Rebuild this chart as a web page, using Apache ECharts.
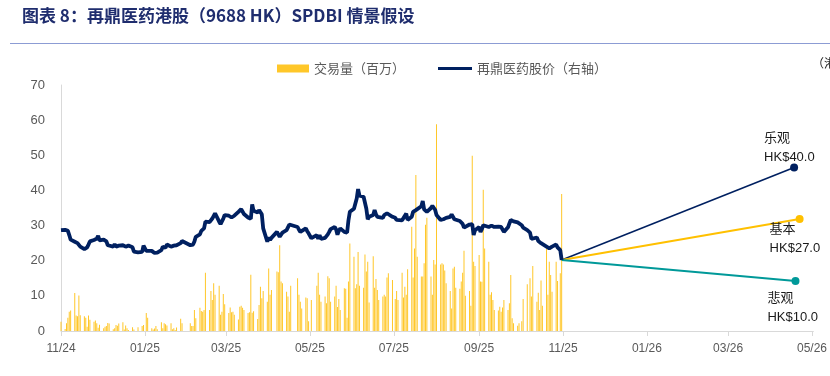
<!DOCTYPE html>
<html><head><meta charset="utf-8">
<script src="https://cdn.jsdelivr.net/npm/echarts@6/dist/echarts.min.js"></script>
<style>html,body{margin:0;padding:0;background:#fff}#c{width:830px;height:376px}</style>
</head><body><div id="c"></div>
<script>
// ---- categories: months covered and HK market holidays (weekday closures)
const months = ['2024-11','2024-12','2025-01','2025-02','2025-03','2025-04','2025-05','2025-06','2025-07','2025-08','2025-09','2025-10'];
const holidays = ['2024-12-25','2024-12-26','2025-01-01','2025-01-29','2025-01-30','2025-01-31','2025-04-04','2025-04-18','2025-04-21','2025-05-01','2025-05-05','2025-07-01','2025-10-01','2025-10-07','2025-10-29'];

// ---- daily trading volume (millions), read per month
const volNov24 = [2.6,0.6,2.2,3.8,5.5,5.8,10.8,4.4,4.2,10.1,4.5,4.2,3.8,1.2,4.4,3.2,2.6,3.0,2.2,0.9,1.8];
const volDec24 = [0.8,1.2,1.4,2.3,2.1,0.5,0.8,1.7,1.5,2.1,2.5,0.4,1.6,0.8,0.3,1.1,0.4,1.1,1.4,1.7];
const volJan25 = [5.1,3.8,0.8,0.4,0.7,1.4,0.5,2.5,0.8,2.2,1.9,1.6,2.2,0.5,0.8,0.3,1.0,3.5,2.2];
const volFeb25 = [2.2,1.4,1.4,6.0,3.6,6.6,5.7,5.5,6.0,16.6,6.0,11.4,8.8,13.6,10.3,12.9,4.6,5.5,10.5,7.6];
const volMar25 = [5.1,6.7,5.3,5.5,4.6,3.3,6.9,7.2,6.6,6.0,5.1,5.3,16.0,5.2,5.6,3.4,7.4,12.6,9.3,11.4,8.3];
const volApr25 = [17.8,10.3,11.7,16.9,16.7,24.4,14.1,13.6,11.2,9.8,5.5,12.9,15.0,10.3,8.3,6.4,9.5,9.3,2.8];
const volMay25 = [8.8,12.9,16.6,10.3,8.3,9.8,7.9,15.6,15.0,8.3,9.8,12.9,6.8,9.1,6.0,12.2,12.0,3.8,14.1,24.9];
const volJun25 = [21.1,12.2,13.3,22.5,12.9,12.3,21.8,16.9,19.7,8.1,21.3,12.3,14.8,11.7,8.8,9.8,10.3,9.8,15.2,16.4,14.5];
const volJul25 = [9.1,11.4,8.8,16.6,9.5,12.6,10.3,17.6,29.7,15.2,23.5,44.4,21.1,15.5,15.5,19.3,30.2,32.2,15.5,10.3,20.2,18.9];
const volAug25 = [58.8,18.9,19.3,18.9,17.2,13.6,11.4,6.4,17.8,18.3,12.3,12.0,14.1,16.6,22.8,10.0,11.4,7.2,49.9,19.7,18.5];
const volSep25 = [21.6,14.1,14.0,40.2,23.5,19.7,10.3,11.0,8.8,6.0,5.8,6.9,5.5,6.7,8.8,6.0,7.9,15.9,3.6,2.2,1.5,2.2];
const volOct25 = [2.8,9.1,13.3,15.0,9.8,18.5,8.3,10.9,6.0,14.4,7.2,23.5,10.3,19.7,15.9,11.2,19.7,14.2,16.4,39.0];

// ---- daily share price (as plotted), read per month
const pxNov24 = [28.7,28.8,28.7,28.5,27.3,26.0,25.4,25.2,25.0,24.5,24.0,23.3,23.0,23.8,24.6,25.5,25.9,26.2,26.3,27.1,25.8];
const pxDec24 = [26.0,26.3,25.5,24.4,24.1,24.0,24.7,24.0,24.2,24.3,24.4,24.3,24.0,24.1,24.3,23.8,22.6,22.4,22.5,24.3];
const pxJan25 = [22.8,22.7,22.8,22.5,22.2,21.8,22.3,23.0,24.0,24.3,23.7,24.6,24.0,23.8,24.3,24.3,24.4,25.0,25.6];
const pxFeb25 = [24.4,24.7,24.6,25.5,26.8,27.5,28.5,29.0,29.2,31.1,31.0,31.3,32.0,32.5,33.5,31.1,30.4,30.1,32.0,33.0];
const pxMar25 = [32.8,32.6,32.3,32.0,32.8,33.9,34.4,34.7,34.4,33.3,32.3,31.8,31.9,36.0,34.2,33.7,34.4,33.9,33.2,29.2,25.4];
const pxApr25 = [26.6,25.9,26.5,28.2,27.5,26.8,27.3,28.0,28.7,29.5,30.3,29.8,29.6,28.8,28.2,28.7,29.2,28.4,27.8];
const pxMay25 = [26.4,27.3,26.2,27.3,26.2,26.5,26.6,27.5,28.2,29.0,29.6,28.9,27.4,28.5,29.2,28.2,28.0,28.0,31.5,33.9];
const pxJun25 = [34.8,35.3,37.7,40.4,38.5,38.2,37.7,34.8,31.8,32.5,33.0,34.4,33.2,32.5,32.0,32.2,33.0,33.4,33.5,33.0,32.5];
const pxJul25 = [32.2,31.6,31.1,31.5,32.0,32.8,33.4,31.6,32.5,33.9,34.2,34.4,34.8,35.5,37.0,34.6,34.2,33.9,35.0,35.6,35.8,34.5];
const pxAug25 = [33.0,31.6,31.7,31.8,31.8,32.2,32.5,33.2,32.8,31.8,31.3,31.3,31.3,30.5,29.4,29.8,30.3,30.6,30.4,27.3,28.7];
const pxSep25 = [29.6,28.2,29.0,30.1,29.8,29.6,30.1,30.0,29.8,29.6,29.7,29.6,29.6,29.5,28.2,29.5,30.6,31.6,31.4,31.2,30.9,30.5];
const pxOct25 = [30.1,29.4,28.7,28.0,26.2,25.9,26.6,25.6,25.3,25.0,24.5,24.0,23.7,23.5,23.5,24.0,24.6,23.8,23.0,20.2];

// ---- scenarios
const scenarioNames = ['乐观','基本','悲观'];
const scenarioTargets = ['HK$40.0','HK$27.0','HK$10.0'];
const scenarioEndDates = ['2026-04-18','2026-04-22','2026-04-19'];
const scenarioEndValues = [46.5, 31.9, 14.2];

// ---- axis ticks
const tickMonths = ['2024-11-01','2025-01-01','2025-03-01','2025-05-01','2025-07-01','2025-09-01','2025-11-01','2026-01-01','2026-03-01','2026-05-01'];

// ---------------------------------------------------------------
const volByMonth = [volNov24,volDec24,volJan25,volFeb25,volMar25,volApr25,volMay25,volJun25,volJul25,volAug25,volSep25,volOct25];
const pxByMonth = [pxNov24,pxDec24,pxJan25,pxFeb25,pxMar25,pxApr25,pxMay25,pxJun25,pxJul25,pxAug25,pxSep25,pxOct25];
function ts(s){const p=s.split('-').map(Number);return new Date(p[0],p[1]-1,p[2]||1).getTime();}
function pad(n){return (n<10?'0':'')+n;}
function tradingDays(ym){
  const p=ym.split('-').map(Number);const out=[];
  const d=new Date(p[0],p[1]-1,1);
  while(d.getMonth()===p[1]-1){
    const key=d.getFullYear()+'-'+pad(d.getMonth()+1)+'-'+pad(d.getDate());
    const wd=d.getDay();
    if(wd!==0&&wd!==6&&holidays.indexOf(key)<0) out.push(d.getTime());
    d.setDate(d.getDate()+1);
  }
  return out;
}
const volData=[], pxData=[];
months.forEach((m,i)=>{
  const days=tradingDays(m);
  const v=volByMonth[i], p=pxByMonth[i];
  for(let k=0;k<days.length;k++){
    if(k<v.length) volData.push([days[k],v[k]]);
    if(k<p.length) pxData.push([days[k],p[k]]);
  }
});
const last=pxData[pxData.length-1];
const scenColors=['#002060','#FFC000','#009999'];
const scenWidths=[1.6,2,2];
const labelPos=[[-26,-35],[-26,5],[-24,12]];
const tickTs=tickMonths.map(ts);

const scenSeries=scenarioNames.map((n,i)=>({
  type:'line', yAxisIndex:1, name:n, silent:true,
  showAllSymbol:true,
  lineStyle:{color:scenColors[i],width:scenWidths[i]},
  itemStyle:{color:scenColors[i]},
  data:[
    {value:[last[0],last[1]],symbol:'none'},
    {value:[ts(scenarioEndDates[i]),scenarioEndValues[i]],symbol:'circle',symbolSize:8,
     label:{show:true,position:labelPos[i],align:'left',verticalAlign:'top',
       formatter:n+'\n'+scenarioTargets[i],lineHeight:19,fontSize:13,color:'#1a1a1a',
       fontFamily:"'Liberation Sans','Noto Sans CJK SC',sans-serif"}}
  ],
  z:4
}));

const chart=echarts.init(document.getElementById('c'),null,{renderer:'canvas'});
chart.setOption({
  animation:false,
  backgroundColor:'#fff',
  grid:{left:61,right:15,top:85,bottom:45,containLabel:false},
  legend:[
    {left:272,top:57,itemWidth:32,itemHeight:8,icon:'rect',data:['交易量（百万）'],itemGap:0,
     textStyle:{color:'#595959',fontSize:13,fontFamily:"'Noto Sans CJK SC',sans-serif"},selectedMode:false},
    {left:433,top:57,itemWidth:34,itemHeight:3,icon:'rect',data:['再鼎医药股价（右轴）'],
     textStyle:{color:'#595959',fontSize:13,fontFamily:"'Noto Sans CJK SC',sans-serif"},selectedMode:false}
  ],
  xAxis:{type:'value',min:ts('2024-11-01'),max:ts('2026-05-02'),scale:true,
    axisLine:{lineStyle:{color:'#D9D9D9'}},
    axisTick:{show:true,customValues:tickTs,length:5,lineStyle:{color:'#D9D9D9'}},
    axisLabel:{customValues:tickTs,color:'#595959',fontSize:12,margin:12,
      fontFamily:"'Liberation Sans Narrow','Liberation Sans',sans-serif",
      formatter:function(v){const d=new Date(v);return pad(d.getMonth()+1)+'/'+pad(d.getFullYear()%100);}},
    splitLine:{show:false}},
  yAxis:[
    {type:'value',min:0,max:70,interval:10,
     axisLine:{show:true,lineStyle:{color:'#D9D9D9'}},axisTick:{show:false},splitLine:{show:false},
     axisLabel:{color:'#595959',fontSize:13,margin:16,fontFamily:"'Liberation Sans',sans-serif"}},
    {type:'value',min:0,max:70,interval:10,show:false}
  ],
  graphic:[
    {type:'text',left:22,top:7,style:{text:'图表 8：再鼎医药港股（9688 HK）SPDBI 情景假设',
      fill:'#1f2d6e',font:"bold 17px 'Noto Sans CJK SC',sans-serif"}},
    {type:'line',shape:{x1:10,y1:43.5,x2:830,y2:43.5},style:{stroke:'#8C9CD4',lineWidth:1}},
    {type:'text',left:812,top:57,style:{text:'（港元）',fill:'#262626',font:"12px 'Noto Sans CJK SC',sans-serif"}}
  ],
  series:[
    {type:'bar',name:'交易量（百万）',yAxisIndex:0,data:volData,barWidth:1,
     itemStyle:{color:'#FFC729'},silent:true,z:2},
    {type:'line',name:'再鼎医药股价（右轴）',yAxisIndex:1,data:pxData,symbol:'none',
     lineStyle:{color:'#002060',width:3.8},itemStyle:{color:'#002060'},silent:true,z:5}
  ].concat(scenSeries)
});
</script></body></html>
